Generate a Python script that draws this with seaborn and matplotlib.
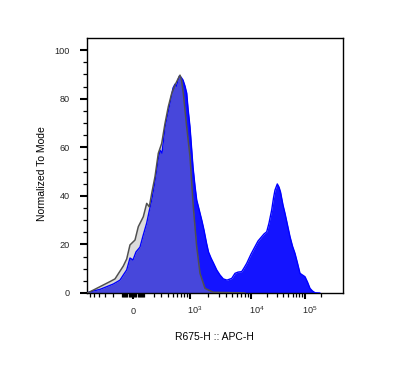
import numpy as np
import pandas as pd
import matplotlib
matplotlib.use("Agg")
import matplotlib.pyplot as plt
import seaborn as sns
from matplotlib.transforms import ScaledTranslation
from matplotlib import font_manager

# ---------------- data (x in display channels 0..256, y normalized to mode) -------------
sample_channel = [0, 3, 13, 19.7, 26.3, 33, 36.3, 39.7, 43, 46, 49, 53, 56, 59.7, 62, 64.7,
                  67, 69.7, 71, 73, 75, 76.5, 78, 80.5, 83, 86, 88, 89.5, 91, 92.3, 94, 96,
                  98, 99.7, 101, 103, 104.5, 106, 108, 109.7, 111.5, 113, 115, 117, 119.5,
                  121.5, 124, 126.5, 129.7, 133, 136.3, 140, 144.7, 148, 151, 154.7, 157,
                  159.7, 164, 168, 171, 174.7, 177, 179.7, 182, 184.7, 186.5, 188, 190.3,
                  192, 193.5, 196, 198, 200.5, 203, 205.5, 208, 210.5, 213, 215.5, 218,
                  220.5, 223, 225.5, 228, 233]
sample_value = [0, 0.5, 1.5, 2.6, 3.7, 5.3, 7.4, 9.5, 14.4, 13.6, 16.9, 18.9, 23.5, 28.8,
                33.3, 38.3, 43.6, 50.6, 54.7, 58.8, 57.6, 63, 68.3, 73.3, 78.2, 84.4, 86,
                85.2, 87.7, 89.3, 88.9, 87.7, 85.2, 82.3, 76.1, 68.3, 60.1, 51.9, 44, 38.3,
                35.4, 32.9, 29.6, 25.9, 20.6, 16.9, 14.4, 12.3, 9.5, 7.4, 5.8, 5.3, 6.0,
                8.1, 8.6, 8.8, 10.3, 12.2, 16, 19.1, 21.4, 23.2, 24.3, 25.2, 28.8, 34.2,
                39.1, 42.4, 44.9, 43.6, 41.6, 36.2, 32.8, 28, 23.2, 19.3, 16.3, 12.3, 8.1,
                7.4, 6.7, 4.5, 1.9, 0.8, 0.1, 0]

control_channel = [0, 3, 13, 23, 28, 33, 36.3, 39.7, 43, 48, 51.3, 56.3, 59.7, 62.3, 64.7,
                   68, 71.3, 74.7, 78, 81.3, 84.7, 88, 91.3, 93, 94.5, 96.3, 99.7, 103,
                   106.3, 109.7, 113, 118, 126.3, 138, 150, 158]
control_value = [0, 0.5, 2.6, 4.7, 5.8, 9, 11.1, 14, 19.8, 21.8, 27.3, 31.4, 36.9, 35.5,
                 41, 47.9, 57.5, 61.6, 69.8, 76.7, 82.2, 85.6, 88.4, 89.7, 87.7, 82.2, 68.4,
                 56.1, 35.5, 19.1, 8.1, 1.9, 0.3, 0.2, 0.1, 0]

x_tick_values = [0, 1e3, 1e4, 1e5]
x_tick_labels = ["0", r"$\mathregular{10^3}$", r"$\mathregular{10^4}$", r"$\mathregular{10^5}$"]
y_ticks = [0, 20, 40, 60, 80, 100]
x_label = "R675-H :: APC-H"
y_label = "Normalized To Mode"

# ---------------- biexponential-like axis mapping (value -> channel) -------------------
anchor_values = np.array([-2000, 0, 1e3, 1e4, 1e5, 262144])
anchor_channels = np.array([-26, 46, 102.5, 164, 217.5, 240])
W = 220.0


def to_channel(v):
    return np.interp(np.arcsinh(np.asarray(v, float) / W), np.arcsinh(anchor_values / W), anchor_channels)


minor_vals = []
for dec in (10, 100):
    for k in range(1, 10):
        minor_vals += [k * dec, -k * dec]
for dec in (1e3, 1e4):
    for k in range(2, 10):
        minor_vals.append(k * dec)
minor_vals += [2e5]
minor_ch = [c for c in to_channel(minor_vals) if 0 <= c <= 256]

# ---------------- styling -------------------
sns.set_theme(style="white")
available = {f.name for f in font_manager.fontManager.ttflist}
main_font = "Liberation Sans" if "Liberation Sans" in available else "DejaVu Sans"
tick_font = "Liberation Sans Narrow" if "Liberation Sans Narrow" in available else main_font
plt.rcParams["font.family"] = [main_font, "DejaVu Sans"]
plt.rcParams["mathtext.default"] = "regular"

fig = plt.figure(figsize=(4.05, 3.84), dpi=100)
fig.patch.set_facecolor("white")
ax = fig.add_axes([87 / 405, 1 - 293 / 384, 256 / 405, 255 / 384])
ax.set_facecolor("white")

blue_fill = "#1414ff"
blue_edge = "#0000ff"

ax.fill_between(sample_channel, sample_value, 0, color=blue_fill, lw=0, zorder=1)
ax.fill_between(control_channel, control_value, 0, color="#9f9f9f", alpha=0.37, lw=0, zorder=2)

df_s = pd.DataFrame({"ch": sample_channel, "val": sample_value})
df_c = pd.DataFrame({"ch": control_channel, "val": control_value})
sns.lineplot(data=df_s, x="ch", y="val", ax=ax, color=blue_edge, lw=1.0, sort=False,
             estimator=None, zorder=3)
sns.lineplot(data=df_c, x="ch", y="val", ax=ax, color="#505050", lw=1.1, sort=False,
             estimator=None, zorder=4)

ax.set_xlim(0, 256)
ax.set_ylim(0, 105)

ax.set_xticks(to_channel(x_tick_values))
ax.set_xticklabels(x_tick_labels)
ax.set_xticks(minor_ch, minor=True)
ax.set_yticks(y_ticks)
ax.set_yticks(np.arange(0, 105, 5), minor=True)

for s in ax.spines.values():
    s.set_color("black")
    s.set_linewidth(1.0)
    s.set_visible(True)

ax.tick_params(axis="y", which="major", direction="out", length=5, width=1.5, color="black",
               labelsize=6.6, pad=7.5, left=True)
ax.tick_params(axis="y", which="minor", direction="out", length=2.7, width=0.9, color="black", left=True)
ax.tick_params(axis="x", which="major", direction="out", length=4.3, width=1.5, color="black",
               labelsize=6.6, pad=10.5, bottom=True)
ax.tick_params(axis="x", which="minor", direction="out", length=2.6, width=0.9, color="black", bottom=True)

for lab in ax.get_yticklabels():
    lab.set_family([tick_font, "DejaVu Sans"])
for i, lab in enumerate(ax.get_xticklabels()):
    lab.set_family([tick_font, "DejaVu Sans"])
    lab.set_va("baseline")
    if i > 0:
        lab.set_transform(lab.get_transform() + ScaledTranslation(4 / 72, 0, fig.dpi_scale_trans))

ax.set_xlabel(x_label, fontsize=7.5, color="black")
ax.set_ylabel(y_label, fontsize=7.5, color="black")
ax.xaxis.set_label_coords(0.498, -0.153)
ax.yaxis.set_label_coords(-0.157, 0.47)

fig.savefig("out.png", dpi=100, facecolor="white")
